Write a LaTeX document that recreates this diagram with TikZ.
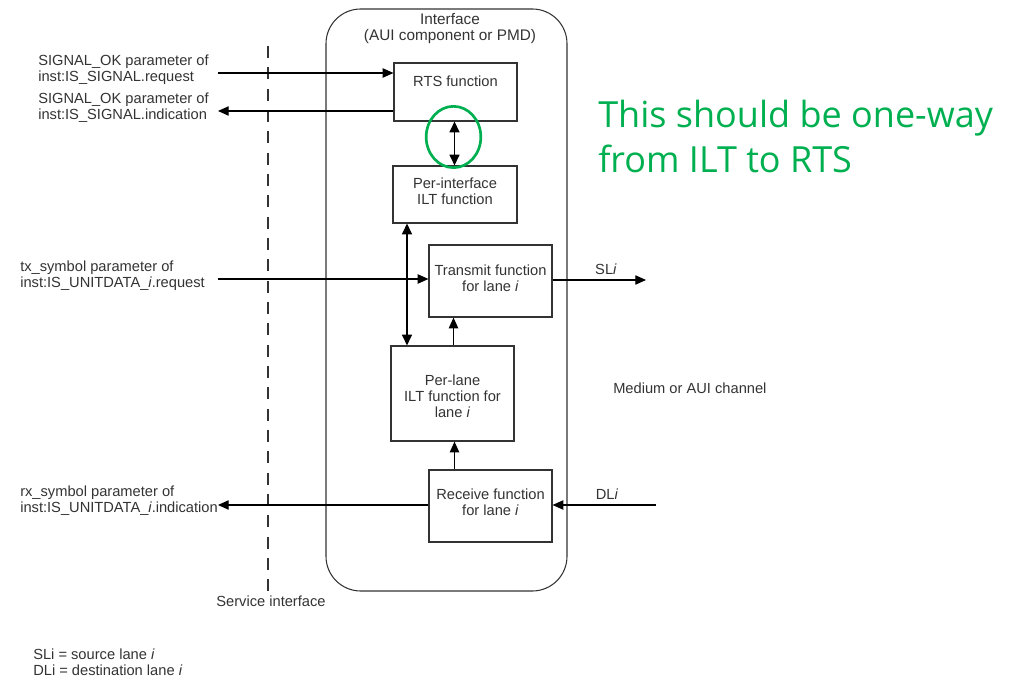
\documentclass[tikz,border=0pt]{standalone}
\usepackage{fontspec}
\setmainfont{Liberation Sans}
\newfontfamily\notefont{Open Sans}
\usetikzlibrary{arrows.meta,fit,shapes.geometric}
\definecolor{notegreen}{HTML}{00B050}
\definecolor{inkgray}{HTML}{333333}
\begin{document}
\begin{tikzpicture}[x=0.75pt,y=-0.75pt,
  every node/.style={font=\fontsize{11}{12}\selectfont, inner sep=0pt, text=inkgray},
  fbox/.style={draw=inkgray, line width=0.9pt, inner sep=0pt},
  arr/.style={draw=black, line width=0.8pt, -{Triangle[length=8pt,width=7pt]}},
  darr/.style={draw=black, line width=1pt, {Triangle[length=8pt,width=7.5pt]}-{Triangle[length=8pt,width=7.5pt]}},
  lbl/.style={align=left, anchor=west},
  svc/.style={draw=inkgray, line width=0.9pt, dash pattern=on 9pt off 7pt}]
\useasboundingbox (0,0) rectangle (1017,680);

% interface enclosure
\node[fbox, line width=0.8pt, rounded corners=26pt, fit={(326,9)(567,591)}] (iface) {};
\node[align=center, font=\fontsize{11.5}{12.5}\selectfont] (ifacettl) at (450,28.5) {Interface\\(AUI component or PMD)};

% service interface boundary
\coordinate (svtop) at (268,46);
\coordinate (svbot) at (268,592);
\draw[svc] (svtop) -- (svbot);
\node (svclbl) at (271,601) {Service interface};

% function blocks
\node[fbox, fit={(394,63)(517,121)}] (rts) {};
\node (rtstxt) at (455.5,81) {RTS function};
\node[fbox, fit={(393,166)(517,223)}] (ilt) {};
\node[align=center] (ilttxt) at (455,191.5) {Per-interface\\ILT function};
\node[fbox, fit={(429,245)(552,317)}] (tx) {};
\node[align=center] (txtxt) at (490.5,278) {Transmit function\\for lane \textit{i}};
\node[fbox, fit={(391,346)(514,441)}] (lane) {};
\node[align=center] (lanetxt) at (452.5,396) {Per-lane\\ILT function for\\lane \textit{i}};
\node[fbox, fit={(429,470)(552,542)}] (rx) {};
\node[align=center] (rxtxt) at (490.5,502.5) {Receive function\\for lane \textit{i}};

% service-side primitives
\node[lbl] (reqtxt) at (38,70) {SIGNAL\_OK parameter of\\inst:IS\_SIGNAL.request};
\node[lbl] (indtxt) at (38,108) {SIGNAL\_OK parameter of\\inst:IS\_SIGNAL.indication};
\node[lbl] (txsymtxt) at (20,276) {tx\_symbol parameter of\\inst:IS\_UNITDATA\_\textit{i}.request};
\node[lbl] (rxsymtxt) at (20,500.5) {rx\_symbol parameter of\\inst:IS\_UNITDATA\_\textit{i}.indication};

\coordinate (reqin) at (218,73);
\coordinate (indout) at (218,111);
\coordinate (txin) at (218,279);
\coordinate (rxout) at (218,505);
\coordinate (slout) at (646,280);
\coordinate (dlin) at (656,505);

\draw[arr] (reqin) -- (reqin -| rts.west);
\draw[arr] (indout -| rts.west) -- (indout);
\draw[arr] (txin) -- (txin -| tx.west);
\draw[arr] (rxout -| rx.west) -- (rxout);
\draw[arr] (slout -| tx.east) -- (slout);
\draw[arr] (dlin) -- (dlin -| rx.east);

% internal connections
\coordinate (colA) at (407,0);
\coordinate (colB) at (453.5,0);
\coordinate (colC) at (454.5,0);
\draw[darr] (rts.south -| colC) -- (ilt.north -| colC);
\draw[darr] (ilt.south -| colA) -- (lane.north -| colA);
\draw[arr] (lane.north -| colB) -- (tx.south -| colB);
\draw[arr] (rx.north -| colC) -- (lane.south -| colC);

% lane labels and legend
\node (sllbl) at (606,269) {SL\textit{i}};
\node (dllbl) at (607,494) {DL\textit{i}};
\node[anchor=west] (medium) at (613,388) {Medium or AUI channel};
\node[lbl] (legend) at (33,662) {SLi = source lane \textit{i}\\DLi = destination lane \textit{i}};

% review note
\node[draw=notegreen, line width=2pt, ellipse, minimum width=41pt, minimum height=46pt] (hl) at (453.5,137) {};
\node[anchor=base west, text=notegreen, font=\notefont\fontsize{27}{30}\selectfont] (note1) at (598,128) {This should be one-way};
\node[anchor=base west, text=notegreen, font=\notefont\fontsize{27}{30}\selectfont] (note2) at (598,173) {from ILT to RTS};
\end{tikzpicture}
\end{document}
